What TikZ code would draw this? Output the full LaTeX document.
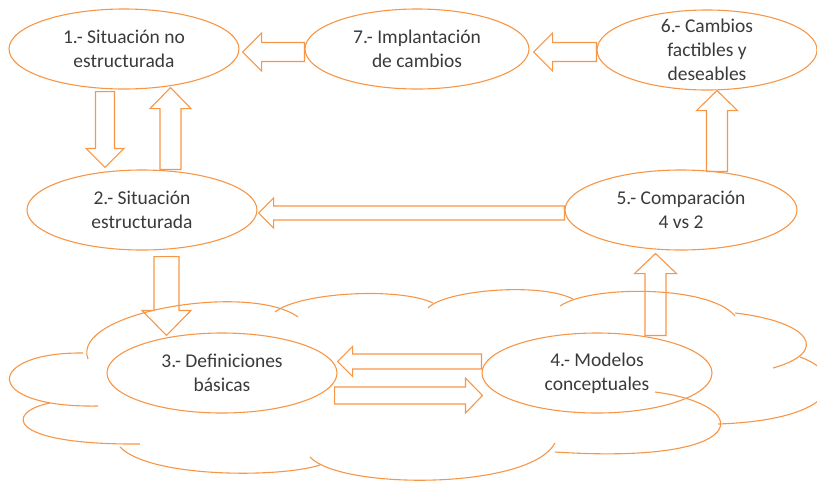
\documentclass[tikz,border=0pt]{standalone}
\usepackage{fontspec}
\setmainfont{Carlito}
\usepackage{tikz}
\usetikzlibrary{
    calc,
    shapes.geometric
}

\definecolor{stageorange}{HTML}{F79646}
\definecolor{stagetext}{HTML}{3A3A3A}

% hollow block arrow: tail, tip, half shaft, half head, head length
\newcommand{\blockarrow}[5]{%
    \path (#1) coordinate (ba-s) (#2) coordinate (ba-t);
    \path ($(ba-t)!#5!(ba-s)$) coordinate (ba-h);
    \draw[arrowline] ($(ba-s)!#3!90:(ba-t)$) -- ($(ba-h)!#3!90:(ba-t)$)
        -- ($(ba-h)!#4!90:(ba-t)$) -- (ba-t) -- ($(ba-h)!#4!-90:(ba-t)$)
        -- ($(ba-h)!#3!-90:(ba-t)$) -- ($(ba-s)!#3!-90:(ba-t)$) -- cycle;
}

\begin{document}
\begin{tikzpicture}[x=1pt,y=-1pt,line join=miter]
    \tikzstyle{stage}=[ellipse, draw=stageorange, line width=1.1pt, minimum width=230pt, minimum height=80pt, inner sep=2pt, align=center, text=stagetext, font=\fontsize{19.5}{24}\selectfont]
    \tikzstyle{arrowline}=[draw=stageorange, line width=1.1pt]
    \tikzstyle{cloudline}=[draw=stageorange, line width=1.1pt]

    \useasboundingbox (0,0) rectangle (817,483);
    \clip (0,0) rectangle (817,483);

    % cloud behind stages 3 and 4
    \draw[cloudline] (88,359) .. controls (70,312) and (250,282) .. (298,317);
    \draw[cloudline] (275,312) .. controls (300,292) and (400,287) .. (433,303);
    \draw[cloudline] (428,308) .. controls (445,290) and (540,282) .. (573,299);
    \draw[cloudline] (560,306) .. controls (590,285) and (710,285) .. (735,316);
    \draw[cloudline] (735,313) .. controls (812,322) and (830,352) .. (773,368);
    \draw[cloudline] (800,357) .. controls (850,375) and (840,420) .. (718,424);
    \draw[cloudline] (655,392) .. controls (755,405) and (755,465) .. (555,452);
    \draw[cloudline] (555,443) .. controls (530,490) and (340,490) .. (310,457);
    \draw[cloudline] (120,447) .. controls (150,478) and (280,478) .. (320,465);
    \draw[cloudline] (50,403) .. controls (5,412) and (5,445) .. (140,444);
    \draw[cloudline] (83,353) .. controls (-15,352) and (-20,408) .. (98,406);

    \node[stage] (e1) at (124,49) {1.- Situación no\\estructurada};
    \node[stage, minimum width=224pt] (e7) at (417,49) {7.- Implantación\\de cambios};
    \node[stage, minimum width=220pt, inner ysep=-7pt] (e6) at (707,50) {6.- Cambios\\factibles y\\deseables};
    \node[stage] (e2) at (142,210) {2.- Situación\\estructurada};
    \node[stage, minimum width=232pt] (e5) at (681,210) {5.- Comparación\\4 vs 2};
    \node[stage] (e3) at (222,373) {3.- Definiciones\\básicas};
    \node[stage] (e4) at (597,373) {4.- Modelos\\conceptuales};

    \blockarrow{[yshift=-3pt]e7.west}{[shift={(3pt,-3pt)}]e1.east}{9.5pt}{19pt}{19pt}
    \blockarrow{[yshift=-2pt]e6.west}{[shift={(4pt,-3pt)}]e7.east}{9.5pt}{19pt}{19pt}
    \blockarrow{[shift={(-19pt,-2pt)}]e1.south}{[shift={(-37pt,2pt)}]e2.north}{9.5pt}{19pt}{19pt}
    \blockarrow{[xshift=28.5pt]e2.north}{[shift={(46.5pt,2pt)}]e1.south}{10.5pt}{20.5pt}{21pt}
    \blockarrow{[yshift=-3pt]e5.west}{[shift={(1pt,-3pt)}]e2.east}{7pt}{15pt}{15pt}
    \blockarrow{[shift={(36pt,-2pt)}]e5.north}{[xshift=10pt]e6.south}{10.5pt}{20.5pt}{20pt}
    \blockarrow{[shift={(24.5pt,-6pt)}]e2.south}{[shift={(-55.5pt,-3pt)}]e3.north}{12.5pt}{24.5pt}{25pt}
    \blockarrow{[yshift=11.5pt]e4.west}{[yshift=11.5pt]e3.east}{7.5pt}{15pt}{15pt}
    \blockarrow{[shift={(-3pt,-22.5pt)}]e3.east}{[shift={(1pt,-22.5pt)}]e4.west}{8.5pt}{17.5pt}{17pt}
    \blockarrow{[shift={(58.5pt,-3pt)}]e4.north}{[shift={(-25.5pt,-3pt)}]e5.south}{10.5pt}{21pt}{20pt}
\end{tikzpicture}
\end{document}
